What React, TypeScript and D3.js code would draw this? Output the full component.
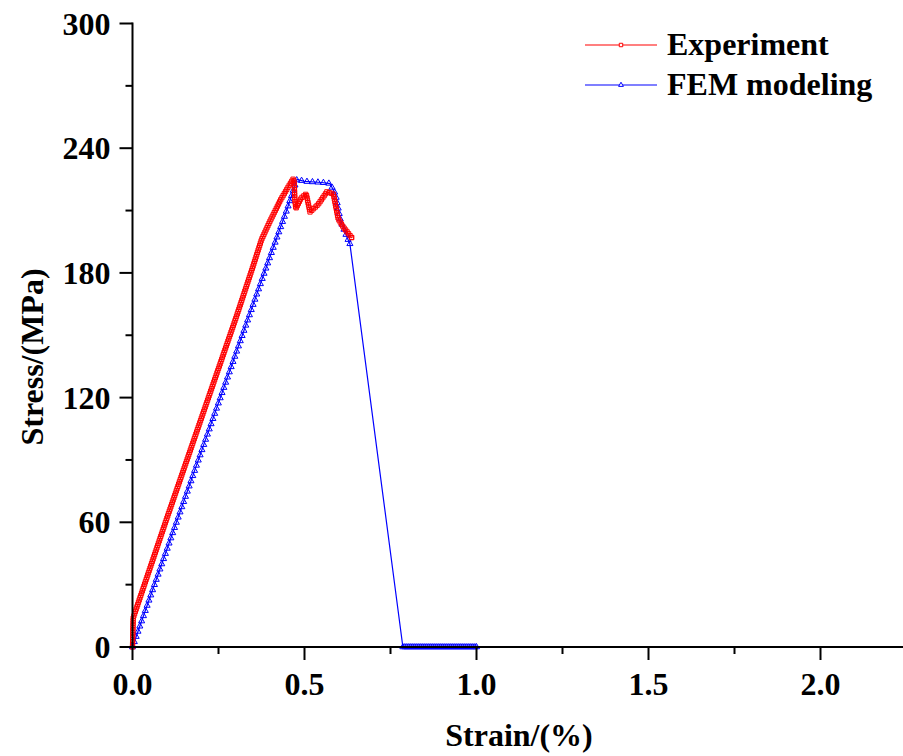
import React, { useMemo } from "react";
import * as d3 from "d3";

const expStrain = [0, 0.002, 0.05, 0.1, 0.15, 0.2, 0.25, 0.3, 0.35, 0.375, 0.4, 0.43, 0.455, 0.4675, 0.47, 0.472, 0.475, 0.49, 0.505, 0.516, 0.54, 0.565, 0.584, 0.598, 0.613, 0.637];
const expStress = [0, 14, 37.5, 62, 86, 110, 134, 158, 183, 196, 205, 215, 222, 225.3, 224, 215, 211, 216, 218, 209.3, 213, 219, 218, 206, 202, 197];

const femStrain = [0, 0.1, 0.2, 0.3, 0.4, 0.45, 0.478, 0.5, 0.55, 0.574, 0.59, 0.605, 0.624, 0.632, 0.786, 0.85, 0.9, 0.95, 1.0];
const femStress = [0, 47, 94, 141, 188, 211, 225, 224, 223.5, 223, 218, 205, 197, 194, 0, 0, 0, 0, 0];

const yTicks = [0, 60, 120, 180, 240, 300];
const xTicks = [0, 0.5, 1.0, 1.5, 2.0];
const seriesNames = ["Experiment", "FEM modeling"];
const xLabel = "Strain/(%)";
const yLabel = "Stress/(MPa)";

const W = 903;
const H = 756;
const FONT = "'Liberation Serif', 'Times New Roman', serif";

function markersAlong(pts: number[][], step: number) {
  const out: number[][] = [];
  let carry = 0;
  for (let i = 0; i < pts.length - 1; i++) {
    const [x0, y0] = pts[i];
    const [x1, y1] = pts[i + 1];
    const len = Math.hypot(x1 - x0, y1 - y0);
    let t = carry;
    while (t <= len) {
      out.push([x0 + ((x1 - x0) * t) / len, y0 + ((y1 - y0) * t) / len]);
      t += step;
    }
    carry = t - len;
  }
  out.push(pts[pts.length - 1]);
  return out;
}

export default function App() {
  const x = d3.scaleLinear().domain([0, 2.25]).range([132.5, 132.5 + 2.25 * 344]);
  const y = d3.scaleLinear().domain([0, 300]).range([647, 23.5]);

  const expPts = expStrain.map((s, i) => [x(s), y(expStress[i])]);
  const femPts = femStrain.map((s, i) => [x(s), y(femStress[i])]);
  const line = d3.line();

  // the long unloading segment of the FEM curve carries no markers
  const dropIdx = femStress.findIndex((v, i) => i > 0 && v === 0);

  const expMarkers = useMemo(() => markersAlong(expPts, 2.4), []);
  const femMarkers = useMemo(
    () => [
      ...markersAlong(femPts.slice(0, dropIdx), 5.5),
      ...markersAlong(femPts.slice(dropIdx), 2),
    ],
    []
  );

  const sq = d3.symbol(d3.symbolSquare, 18)()!;
  const tri = d3.symbol(d3.symbolTriangle, 16)()!;
  const sqLeg = d3.symbol(d3.symbolSquare, 12)()!;
  const triLeg = d3.symbol(d3.symbolTriangle, 10)()!;

  const yMinor = yTicks.slice(0, -1).map((v, i) => (v + yTicks[i + 1]) / 2);
  const xMinor = xTicks.map((v) => v + 0.25);

  const x0 = x(0);
  const y0 = y(0);

  return (
    <svg
      width={W}
      height={H}
      style={{ position: "absolute", left: 0, top: 0, background: "#fff" }}
      fontFamily={FONT}
      fontWeight="bold"
    >
      {/* series */}
      <path d={line(femPts as any)!} fill="none" stroke="#0000ff" strokeWidth={1.2} />
      {femMarkers.map((p, i) => (
        <path key={"f" + i} d={tri} transform={`translate(${p[0]},${p[1]})`} fill="none" stroke="#0000ff" strokeWidth={1} />
      ))}
      <path d={line(expPts as any)!} fill="none" stroke="#ff0000" strokeWidth={1.2} />
      {expMarkers.map((p, i) => (
        <path key={"e" + i} d={sq} transform={`translate(${p[0]},${p[1]})`} fill="none" stroke="#ff0000" strokeWidth={1} />
      ))}

      {/* axes */}
      <line x1={x0} x2={x0} y1={y(300) - 1} y2={y0 + 1} stroke="#000" strokeWidth={2} />
      <line x1={x0 - 1} x2={W + 5} y1={y0} y2={y0} stroke="#000" strokeWidth={2} />
      {yTicks.map((v) => (
        <g key={"yt" + v}>
          <line x1={x0 - 13} x2={x0} y1={y(v)} y2={y(v)} stroke="#000" strokeWidth={2} />
          <text x={x0 - 22} y={y(v) + 11} textAnchor="end" fontSize={32}>
            {v}
          </text>
        </g>
      ))}
      {yMinor.map((v) => (
        <line key={"ym" + v} x1={x0 - 7} x2={x0} y1={y(v)} y2={y(v)} stroke="#000" strokeWidth={2} />
      ))}
      {xTicks.map((v) => (
        <g key={"xt" + v}>
          <line x1={x(v)} x2={x(v)} y1={y0} y2={y0 + 13} stroke="#000" strokeWidth={2} />
          <text x={x(v)} y={695} textAnchor="middle" fontSize={32}>
            {v.toFixed(1)}
          </text>
        </g>
      ))}
      {xMinor.map((v) => (
        <line key={"xm" + v} x1={x(v)} x2={x(v)} y1={y0} y2={y0 + 7} stroke="#000" strokeWidth={2} />
      ))}

      {/* axis titles */}
      <text x={519} y={746} textAnchor="middle" fontSize={32}>
        {xLabel}
      </text>
      <text transform="translate(43,357) rotate(-90)" textAnchor="middle" fontSize={32}>
        {yLabel}
      </text>

      {/* legend */}
      <line x1={585} x2={657} y1={45} y2={45} stroke="#ff0000" strokeWidth={1.2} />
      <path d={sqLeg} transform="translate(621,45)" fill="#fff" stroke="#ff0000" strokeWidth={1} />
      <text x={667} y={55} fontSize={32}>
        {seriesNames[0]}
      </text>
      <line x1={585} x2={657} y1={85} y2={85} stroke="#0000ff" strokeWidth={1.2} />
      <path d={triLeg} transform="translate(621,85)" fill="#fff" stroke="#0000ff" strokeWidth={1} />
      <text x={667} y={95} fontSize={32}>
        {seriesNames[1]}
      </text>
    </svg>
  );
}
